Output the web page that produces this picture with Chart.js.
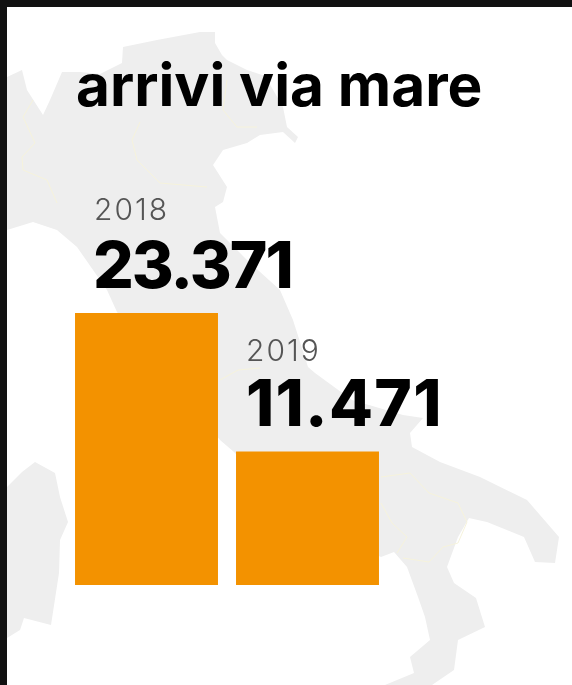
<!DOCTYPE html>
<html lang="en">
<head>
  <meta charset="UTF-8" />
  <title>arrivi via mare</title>
  <script src="https://cdn.jsdelivr.net/npm/chart.js"></script>
  <style>
    html, body { margin: 0; padding: 0; background: #111; overflow: hidden; }
    #page { position: absolute; left: 7px; top: 7px; width: 565px; height: 678px; background: #fff; overflow: hidden; }
    #map { position: absolute; left: -7px; top: -7px; filter: blur(0.7px); }
    #chartBox { position: absolute; left: -7px; top: -7px; width: 572px; height: 685px; }
  </style>
</head>
<body>
  <div id="page">
    <!-- sfondo: sagoma dell'Italia, solo decorazione -->
    <svg id="map" width="572" height="685" viewBox="0 0 572 685">
      <path fill="#eeeeee" d="M0 80 L7 77 L22 70 L27 90 L43 115 L50 100 L62 72 L80 72 L100 74 L122 63 L123 47 L157 40 L200 32 L215 32 L215 43 L222 55 L227 60 L247 70 L265 76 L283 107 L287 127 L298 137 L295 143 L283 132 L260 135 L247 143 L223 150 L213 165 L227 187 L223 202 L215 207 L220 233 L247 260 L280 290 L293 320 L308 367 L315 373 L352 400 L403 415 L423 418 L410 433 L412 447 L440 462 L480 477 L527 500 L559 537 L555 563 L535 562 L524 537 L487 522 L469 518 L458 537 L447 567 L454 583 L476 598 L485 627 L458 640 L454 670 L432 685 L385 685 L414 673 L410 657 L430 640 L425 617 L418 597 L407 567 L394 552 L381 557 L300 520 L234 452 L220 440 L117 312 L107 290 L77 247 L57 230 L33 222 L7 230 L0 232 Z"/>
      <path fill="#eeeeee" d="M0 492 L7 487 L22 472 L35 462 L55 473 L60 497 L68 522 L60 540 L59 573 L51 625 L24 618 L20 630 L7 638 L0 642 Z"/>
      <g fill="none" stroke="#f6f3dc" stroke-width="1">
        <path d="M140 122 L132 140 L137 160 L160 183 L207 187"/>
        <path d="M33 100 L23 117 L35 143 L22 157 L23 170 L47 180 L57 203"/>
        <path d="M227 80 L223 110 L237 127 L257 127"/>
        <path d="M381 477 L410 473 L429 493 L458 503 L467 522 L458 543 L443 547 L429 562 L403 558"/>
        <path d="M381 503 L392 523 L407 537 L397 553"/>
        <path d="M220 380 L238 370 L260 368"/>
      </g>
    </svg>
    <div id="chartBox"><canvas id="chart"></canvas></div>
  </div>
  <script>
    const categories = ['2018', '2019'];
    const arrivals = [23371, 11471];
    const valueLabels = ['23.371', '11.471'];
    const titleText = 'arrivi via mare';

    const labelShift = [19, 10];
    const valueShift = [-1, 0];
    const yearLift = [93, 90];
    const valueSpacing = ['-2px', '1.3px'];

    // titolo e testi sopra le barre
    const textLabels = {
      id: 'textLabels',
      afterDatasetsDraw(chart) {
        const ctx = chart.ctx;
        const meta = chart.getDatasetMeta(0);
        ctx.save();
        ctx.textBaseline = 'alphabetic';
        ctx.textAlign = 'left';
        ctx.fillStyle = '#000';
        ctx.font = '700 58.5px Inter';
        ctx.fillText(titleText, 76, 106);
        meta.data.forEach((bar, i) => {
          const x = bar.x - bar.width / 2 + labelShift[i];
          ctx.fillStyle = '#555';
          ctx.font = '300 30px Inter';
          ctx.letterSpacing = '2px';
          ctx.fillText(categories[i], x, bar.y - yearLift[i]);
          ctx.fillStyle = '#000';
          ctx.font = '800 64px Inter';
          ctx.letterSpacing = valueSpacing[i];
          ctx.fillText(valueLabels[i], x + valueShift[i], bar.y - 25);
          ctx.letterSpacing = '0px';
        });
        ctx.restore();
      }
    };

    new Chart(document.getElementById('chart'), {
      type: 'bar',
      data: {
        labels: categories,
        datasets: [{
          data: arrivals,
          backgroundColor: '#f39200',
          barPercentage: 0.888,
          categoryPercentage: 1
        }]
      },
      options: {
        responsive: true,
        maintainAspectRatio: false,
        animation: false,
        layout: { padding: { left: 66, right: 184, top: 313, bottom: 100 } },
        plugins: {
          legend: { display: false },
          tooltip: { enabled: false }
        },
        scales: {
          x: { display: false },
          y: { display: false, min: 0, max: Math.max(...arrivals) }
        }
      },
      plugins: [textLabels]
    });
  </script>
</body>
</html>
